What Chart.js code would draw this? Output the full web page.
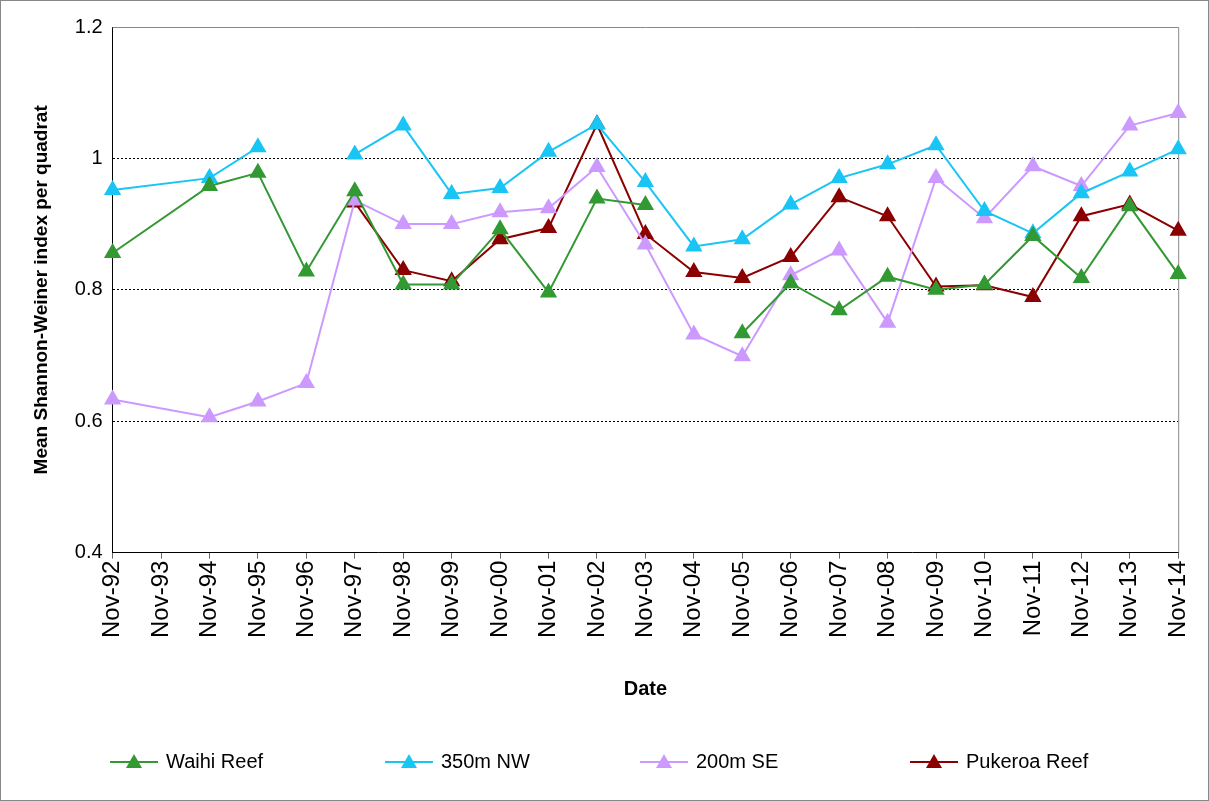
<!DOCTYPE html>
<html><head><meta charset="utf-8">
<script src="https://cdn.jsdelivr.net/npm/chart.js@4"></script>
<style>body{margin:0;background:#fff}#w{width:1209px;height:801px;position:relative}</style>
</head><body><div id="w"><canvas id="c"></canvas></div>
<script>
const labels = ['Nov-92','Nov-93','Nov-94','Nov-95','Nov-96','Nov-97','Nov-98','Nov-99','Nov-00','Nov-01','Nov-02','Nov-03','Nov-04','Nov-05','Nov-06','Nov-07','Nov-08','Nov-09','Nov-10','Nov-11','Nov-12','Nov-13','Nov-14'];
// undefined = no survey (line joins across), null = gap in line
const waihi = [0.856, undefined, 0.958, 0.978, 0.828, 0.95, 0.808, 0.808, 0.892, 0.796, 0.939, 0.929, null, 0.734, 0.81, 0.769, 0.82, 0.80, 0.808, 0.882, 0.818, 0.927, 0.824];
const nw350 = [0.952, undefined, 0.97, 1.017, null, 1.006, 1.05, 0.946, 0.955, 1.01, 1.052, 0.964, 0.866, 0.877, 0.93, 0.97, 0.991, 1.02, 0.92, 0.886, 0.947, 0.98, 1.014];
const se200 = [0.633, undefined, 0.606, 0.63, 0.658, 0.936, 0.90, 0.90, 0.918, 0.924, 0.987, 0.869, 0.732, 0.699, 0.822, 0.86, 0.75, 0.97, 0.909, 0.988, 0.958, 1.05, 1.069];
const pukeroa = [undefined, undefined, undefined, undefined, undefined, 0.933, 0.83, 0.813, 0.877, 0.894, 1.052, 0.885, 0.827, 0.818, 0.85, 0.941, 0.912, 0.805, 0.807, 0.789, 0.912, 0.93, 0.89];
const yTicks = [0.4, 0.6, 0.8, 1, 1.2];

function pts(arr) {
  const out = [];
  arr.forEach((v, i) => { if (v !== undefined) out.push({x: labels[i], y: v}); });
  return out;
}
function ds(label, arr, color) {
  return {label, data: pts(arr), borderColor: color, backgroundColor: color, borderWidth: 2,
    pointStyle: 'triangle', pointRadius: 8, pointHoverRadius: 8, spanGaps: false, tension: 0};
}
const series = [
  ds('Waihi Reef', waihi, '#339933'),
  ds('350m NW', nw350, '#19c5f5'),
  ds('200m SE', se200, '#cc99ff'),
  ds('Pukeroa Reef', pukeroa, '#8b0000')
];

const font = 'Liberation Sans, Arial, sans-serif';
const frame = {
  id: 'frame',
  beforeDraw(chart) {
    const c = chart.ctx;
    c.save(); c.strokeStyle = '#888'; c.lineWidth = 1;
    c.strokeRect(0.5, 0.5, chart.width - 1, chart.height - 1);
    c.restore();
  },
  beforeDatasetsDraw(chart) {
    const c = chart.ctx, a = chart.chartArea;
    c.save(); c.strokeStyle = '#888'; c.lineWidth = 1;
    c.beginPath(); c.moveTo(a.left, a.top + 0.5); c.lineTo(a.right + 0.5, a.top + 0.5); c.lineTo(a.right + 0.5, a.bottom); c.stroke();
    c.restore();
  },
  afterDraw(chart) {
    const c = chart.ctx;
    const xs = [110, 385, 640, 910];
    const y = 762;
    c.save();
    c.font = '20px ' + font; c.textBaseline = 'middle'; c.fillStyle = '#000';
    chart.data.datasets.forEach((d, i) => {
      const x = xs[i];
      c.strokeStyle = d.borderColor; c.lineWidth = 2;
      c.beginPath(); c.moveTo(x, y); c.lineTo(x + 48, y); c.stroke();
      c.fillStyle = d.borderColor;
      c.beginPath(); c.moveTo(x + 24, y - 8); c.lineTo(x + 32, y + 6); c.lineTo(x + 16, y + 6); c.closePath(); c.fill();
      c.fillStyle = '#000';
      c.fillText(d.label, x + 56, y);
    });
    c.restore();
  }
};

new Chart(document.getElementById('c'), {
  type: 'line',
  data: {labels, datasets: series},
  options: {
    responsive: true, maintainAspectRatio: false, animation: false,
    layout: {padding: {top: 27, right: 20, bottom: 96, left: 26}},
    plugins: {legend: {display: false}, tooltip: {enabled: false}},
    scales: {
      x: {
        offset: false,
        grid: {display: true, drawOnChartArea: false, drawTicks: true, tickLength: 6, color: '#666'},
        border: {color: '#000'},
        ticks: {color: '#000', font: {family: font, size: 24}, maxRotation: 90, minRotation: 90, autoSkip: false, padding: 2},
        title: {display: true, text: 'Date', color: '#000', font: {family: font, size: 20, weight: 'bold'}, padding: {top: 37}}
      },
      y: {
        min: 0.4, max: 1.2,
        afterBuildTicks(s) { s.ticks = yTicks.map(v => ({value: v})); },
        grid: {color: ctx => (ctx.tick && (ctx.tick.value === 1.2 || ctx.tick.value === 0.4)) ? 'rgba(0,0,0,0)' : '#000', lineWidth: 1, drawTicks: false},
        border: {color: '#000', dash: [2, 2]},
        ticks: {color: '#000', font: {family: font, size: 20}, padding: 10, callback: v => v},
        title: {display: true, text: 'Mean Shannon-Weiner index per quadrat', color: '#000', font: {family: font, size: 19, weight: 'bold'}, padding: {bottom: 12}}
      }
    }
  },
  plugins: [frame]
});
</script></body></html>
